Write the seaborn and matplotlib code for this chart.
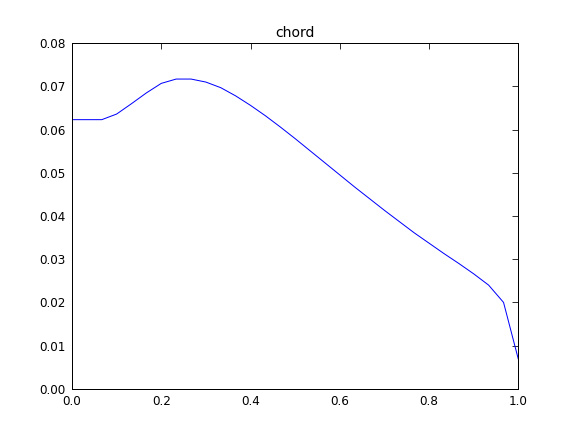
import numpy as np
import matplotlib
matplotlib.use("Agg")
import matplotlib.pyplot as plt
import seaborn as sns

# Values
x_pos = [0.0, 0.0333, 0.0667, 0.1, 0.1333, 0.1667, 0.2, 0.2333, 0.2667, 0.3,
         0.3333, 0.3667, 0.4, 0.4333, 0.4667, 0.5, 0.5333, 0.5667, 0.6, 0.6333,
         0.6667, 0.7, 0.7333, 0.7667, 0.8, 0.8333, 0.8667, 0.9, 0.9333, 0.9667, 1.0]
chord = [0.0623, 0.0623, 0.0623, 0.0636, 0.0660, 0.0685, 0.0707, 0.0717, 0.0717, 0.0710,
         0.0697, 0.0678, 0.0656, 0.0632, 0.0606, 0.0579, 0.0551, 0.0523, 0.0495, 0.0467,
         0.0440, 0.0413, 0.0387, 0.0361, 0.0337, 0.0313, 0.0290, 0.0266, 0.0240, 0.0200, 0.0068]

sns.set_style("white", {"text.color": "black", "xtick.color": "black",
                        "ytick.color": "black", "axes.labelcolor": "black"})
plt.rcParams["font.family"] = ["DejaVu Sans"]

fig = plt.figure(figsize=(8, 6), dpi=72)
ax = fig.add_axes([0.125, 0.1, 0.775, 0.8])
sns.lineplot(x=x_pos, y=chord, color="blue", linewidth=1.0, ax=ax)

ax.set_xlim(0, 1)
ax.set_ylim(0, 0.08)
ax.set_xticks(np.arange(0, 1.01, 0.2))
ax.set_yticks(np.arange(0, 0.081, 0.01))
ax.set_xticklabels([f"{v:.1f}" for v in np.arange(0, 1.01, 0.2)])
ax.set_yticklabels([f"{v:.2f}" for v in np.arange(0, 0.081, 0.01)])
ax.tick_params(direction="in", top=True, right=True, length=6, labelsize=12,
               pad=6, colors="black")
for s in ax.spines.values():
    s.set_color("black")
    s.set_linewidth(1.0)
ax.set_title("chord", fontsize=14, color="black")

fig.savefig("out.png", dpi=72)
